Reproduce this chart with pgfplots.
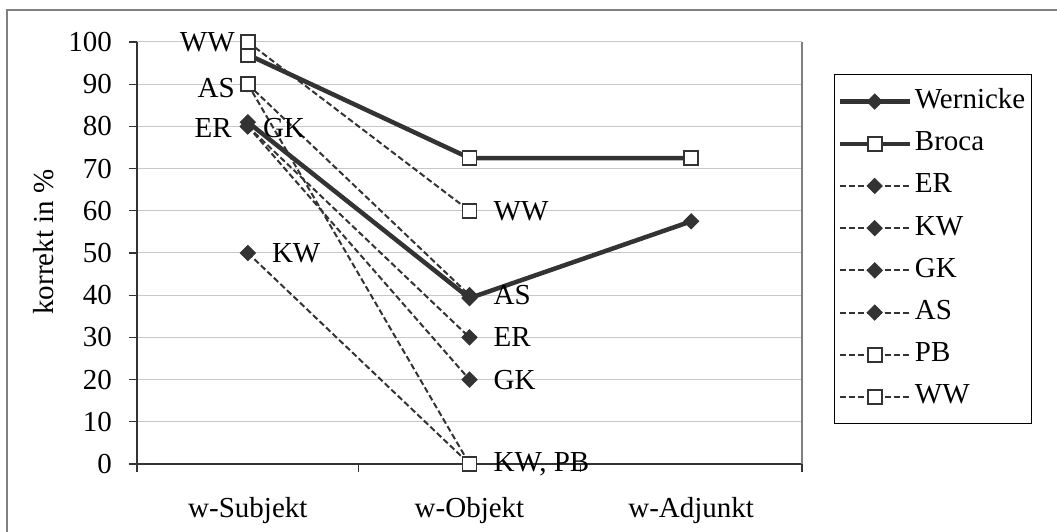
\documentclass[border=0pt]{standalone}
\usepackage{fontspec}
\setmainfont{Liberation Serif}
\usepackage{pgfplots}
\pgfplotsset{compat=1.18}
\definecolor{ln}{HTML}{333333}
\definecolor{gridc}{HTML}{C8C8C8}
\begin{document}
\fontsize{29}{34}\selectfont
\begin{tikzpicture}
\useasboundingbox (0,0) rectangle (1057pt,532pt);
\draw[color=gray, line width=1.5pt] (7pt,0) -- (7pt,522pt) -- (1057pt,522pt);
\begin{axis}[
  at={(137pt,68pt)}, anchor=south west,
  width=665pt, height=422pt, scale only axis,
  xmin=-0.5, xmax=2.5, ymin=0, ymax=100,
  axis x line*=bottom, axis y line*=left,
  axis line style={ln, line width=1.3pt},
  xtick={-0.5,0.5,1.5,2.5}, xticklabels={},
  extra x ticks={0,1,2}, extra x tick labels={w-Subjekt,w-Objekt,w-Adjunkt},
  extra x tick style={major tick length=0pt},
  ytick={0,10,...,100},
  ymajorgrids, grid style={gridc, line width=1pt},
  tick style={ln, line width=1.3pt}, major tick length=8pt, tick align=outside,
  /pgf/number format/assume math mode=true,
  yticklabel style={anchor=east, inner sep=0pt, xshift=-17pt},
  xticklabel style={anchor=base, inner sep=0pt, yshift=-53pt},
  ylabel={korrekt in \%},
  ylabel style={at={(axis description cs:-0.1398,0.526)}, anchor=center},
  clip=false,
  legend style={at={(1.048,0.924)}, anchor=north west, draw=black, line width=1pt, fill=white,
    inner xsep=3pt, inner ysep=12pt, row sep=12.2pt,
    nodes={inner xsep=3pt, inner ysep=2pt, text height=20pt, text depth=6pt}},
  legend cell align=left,
  legend image code/.code={\draw[mark repeat=2,mark phase=2,#1] plot coordinates {(0pt,0pt) (35pt,0pt) (70pt,0pt)};},
  thick/.style={ln, line width=4.5pt},
  dsh/.style={ln, line width=2pt, dash pattern=on 6pt off 3pt},
  dia/.style={mark=square*, mark size=5.3pt, mark options={solid, rotate=45, line width=1pt, fill=ln, draw=ln}},
  sq/.style={mark=square*, mark size=7pt, mark options={solid, line width=1.8pt, fill=white, draw=ln}},
]
\addplot[thick, dia] coordinates {(0,81) (1,39.3) (2,57.5)};
\addlegendentry{Wernicke}
\addplot[thick, sq] coordinates {(0,97) (1,72.5) (2,72.5)};
\addlegendentry{Broca}
\addplot[dsh, dia] coordinates {(0,80) (1,30)};
\addlegendentry{ER}
\addplot[dsh, dia] coordinates {(0,50) (1,0)};
\addlegendentry{KW}
\addplot[dsh, dia] coordinates {(0,80) (1,20)};
\addlegendentry{GK}
\addplot[dsh, dia] coordinates {(0,90) (1,40)};
\addlegendentry{AS}
\addplot[dsh, sq] coordinates {(0,90) (1,0)};
\addlegendentry{PB}
\addplot[dsh, sq] coordinates {(0,100) (1,60)};
\addlegendentry{WW}
\draw[gray, line width=1.3pt] (rel axis cs:1,0) -- (rel axis cs:1,1);
\node[anchor=east, inner sep=0pt, xshift=-13pt] at (axis cs:0,100) {WW};
\node[anchor=east, inner sep=0pt, xshift=-13pt] at (axis cs:0,89) {AS};
\node[anchor=east, inner sep=0pt, xshift=-16pt] at (axis cs:0,79.5) {ER};
\node[anchor=west, inner sep=0pt, xshift=15pt] at (axis cs:0,79.5) {GK};
\node[anchor=west, inner sep=0pt, xshift=24pt] at (axis cs:0,50) {KW};
\node[anchor=west, inner sep=0pt, xshift=24pt] at (axis cs:1,60) {WW};
\node[anchor=west, inner sep=0pt, xshift=24pt] at (axis cs:1,40) {AS};
\node[anchor=west, inner sep=0pt, xshift=24pt] at (axis cs:1,30) {ER};
\node[anchor=west, inner sep=0pt, xshift=24pt] at (axis cs:1,20) {GK};
\node[anchor=west, inner sep=0pt, xshift=24pt] at (axis cs:1,0) {KW, PB};
\end{axis}
\end{tikzpicture}
\end{document}
